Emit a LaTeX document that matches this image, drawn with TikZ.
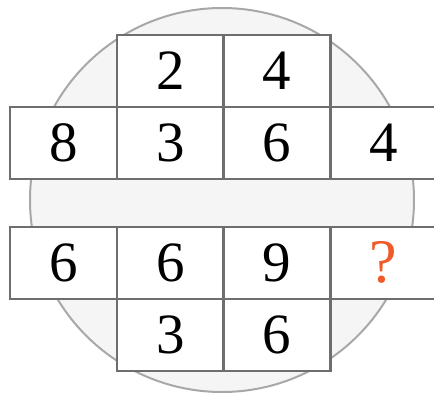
\documentclass[tikz,border=0pt]{standalone}
\usepackage{fontspec}
\setmainfont{Liberation Serif}
\definecolor{gridc}{HTML}{6E6E6E}
\definecolor{circc}{HTML}{A8A8A8}
\definecolor{circf}{HTML}{F5F5F5}
\definecolor{qc}{HTML}{F05A28}
\begin{document}
\begin{tikzpicture}[x=1pt,y=-1pt,
  cell/.style={draw=gridc,fill=white,line width=2.5pt,minimum width=107pt,minimum height=72pt,inner sep=0pt,anchor=north west,font=\fontsize{57}{57}\selectfont}]
\useasboundingbox (0,0) rectangle (434,392);
\draw[circc,fill=circf,line width=2pt] (222,200) circle[radius=192];
% top row
\node[cell] (t1) at (115.5,33.5) {2};
\node[cell] (t2) at (222,33.5) {4};
% second row
\node[cell] (m0) at (8.5,105.5) {8};
\node[cell] (m1) at (115.5,105.5) {3};
\node[cell] (m2) at (222,105.5) {6};
\node[cell] (m3) at (329,105.5) {4};
% third row
\node[cell] (b0) at (8.5,225.5) {6};
\node[cell] (b1) at (115.5,225.5) {6};
\node[cell] (b2) at (222,225.5) {9};
\node[cell,text=qc,font=\fontsize{62}{62}\selectfont] (b3) at (329,225.5) {?};
% bottom row
\node[cell] (d1) at (115.5,297.5) {3};
\node[cell] (d2) at (222,297.5) {6};
\end{tikzpicture}
\end{document}
